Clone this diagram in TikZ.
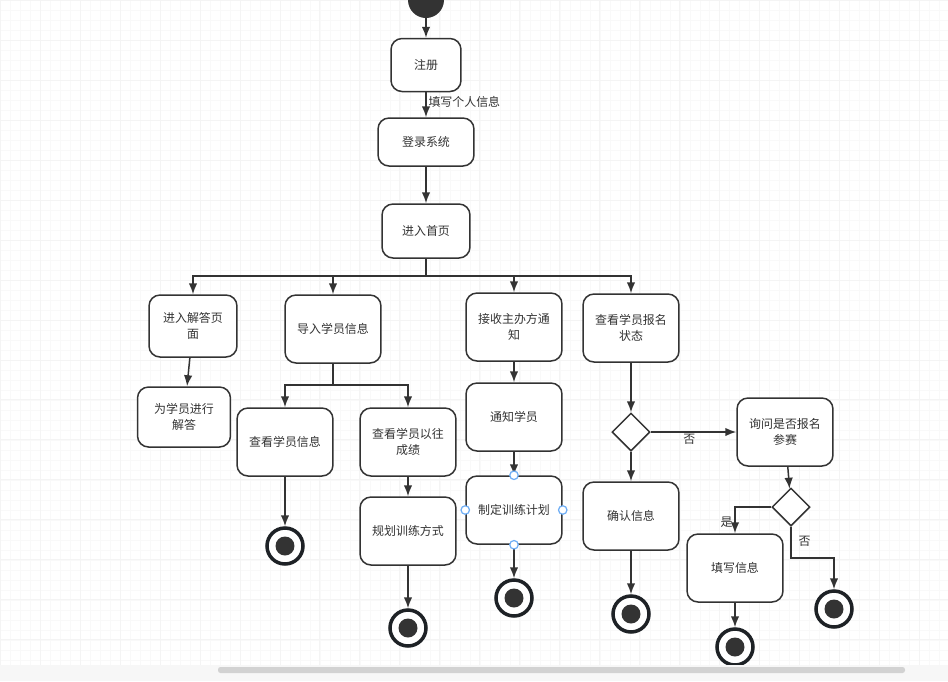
\documentclass[tikz,border=0pt]{standalone}
\usepackage{fontspec}
\newfontfamily\cjk{Noto Sans CJK SC}
\usepackage{xcolor}
\usepackage{tikz}
\usetikzlibrary{arrows.meta,shapes.geometric,calc}
\definecolor{ink}{HTML}{333333}
\definecolor{ring}{HTML}{1E2226}
\definecolor{handle}{HTML}{6FAEF5}
\tikzset{
    act/.style={draw=ink, line width=0.85pt, rounded corners=0.22cm, fill=white, align=center,
      minimum width=1.92cm, minimum height=1.36cm, inner sep=1pt, text=ink,
      font=\cjk\fontsize{6.8}{9}\selectfont},
    dec/.style={diamond, draw=ink, line width=0.85pt, fill=white, minimum width=0.76cm, minimum height=0.76cm, inner sep=0pt},
    begin/.style={circle, fill=ink, minimum size=0.72cm, inner sep=0pt},
    stop/.style={circle, draw=ring, line width=2pt, fill=white, minimum size=0.72cm, inner sep=0pt,
      path picture={\fill[ink] (path picture bounding box.center) circle (0.19cm);}},
    lbl/.style={text=ink, inner sep=1pt, font=\cjk\fontsize{6.8}{9}\selectfont},
    flow/.style={draw=ink, line width=0.85pt, -{Latex[length=2.2mm,width=1.7mm]}},
    knob/.style={circle, draw=handle, line width=0.7pt, fill=white, minimum size=0.17cm, inner sep=0pt}}

\begin{document}
\begin{tikzpicture}[x=0.02cm, y=-0.02cm]
\useasboundingbox (0,0) rectangle (948,681);
\fill[white] (0,0) rectangle (948,681);
\draw[gray!5, line width=0.4pt, step=0.2cm] (0,0) grid (948,665);
\draw[gray!9, line width=0.5pt, step=0.8cm] (0,0) grid (948,665);

\node[begin] (s0) at (426,0) {};
\node[act, minimum width=1.40cm, minimum height=1.06cm] (reg) at (426,65) {注册};
\node[act, minimum height=0.96cm] (login) at (426,142) {登录系统};
\node[act, minimum width=1.76cm, minimum height=1.08cm] (home) at (426,231) {进入首页};
\coordinate (bus) at (426,276);

\node[act, minimum width=1.76cm, minimum height=1.24cm] (ans) at (193,326) {进入解答页\\面};
\node[act, minimum width=1.86cm, minimum height=1.20cm] (reply) at (184,417) {为学员进行\\解答};

\node[act] (imp) at (333,329) {导入学员信息};
\coordinate (bus2) at (333,385);
\node[act] (view) at (285,442) {查看学员信息};
\node[act] (hist) at (408,442) {查看学员以往\\成绩};
\node[act] (plan) at (408,531) {规划训练方式};
\node[stop] (e1) at (285,546) {};
\node[stop] (e2) at (408,628) {};

\node[act] (recv) at (514,327) {接收主办方通\\知};
\node[act] (notify) at (514,417) {通知学员};
\node[act] (sched) at (514,510) {制定训练计划};
\node[stop] (e3) at (514,598) {};

\node[act] (status) at (631,328) {查看学员报名\\状态};
\node[dec] (d1) at (631,432) {};
\node[act] (confirm) at (631,516) {确认信息};
\node[stop] (e4) at (631,614) {};
\node[act] (ask) at (785,432) {询问是否报名\\参赛};
\node[dec] (d2) at (791,507) {};
\coordinate (bend) at (791,558);
\node[act] (fillin) at (735,568) {填写信息};
\node[stop] (e5) at (735,647) {};
\node[stop] (e6) at (834,609) {};

\draw[flow] (s0) -- (reg);
\draw[flow] (reg) -- node[lbl, anchor=west, pos=0.38] {填写个人信息} (login);
\draw[flow] (login) -- (home);
\draw[flow] (home) -- (bus) -| (ans);
\draw[flow] (home) -- (bus) -| (imp);
\draw[flow] (home) -- (bus) -| (recv);
\draw[flow] (home) -- (bus) -| (status);

\draw[flow] (ans) -- (reply);
\draw[flow] (imp) -- (bus2) -| (view);
\draw[flow] (imp) -- (bus2) -| (hist);
\draw[flow] (view) -- (e1);
\draw[flow] (hist) -- (plan);
\draw[flow] (plan) -- (e2);

\draw[flow] (recv) -- (notify);
\draw[flow] (notify) -- (sched);
\draw[flow] (sched) -- (e3);

\draw[flow] (status) -- (d1);
\draw[flow] (d1) -- node[lbl, below, pos=0.45] {否} (ask);
\draw[flow] (d1) -- (confirm);
\draw[flow] (confirm) -- (e4);
\draw[flow] (ask) -- (d2);
\draw[flow] (d2.west) -| node[lbl, anchor=east, pos=0.78] {是} (fillin);
\draw[flow] (d2.south) -- node[lbl, anchor=west, pos=0.45, xshift=0.1cm] {否} (bend) -| (e6);
\draw[flow] (fillin) -- (e5);

\foreach \a in {north,south,west,east}
  \node[knob] at (sched.\a) {};

\fill[gray!6] (0,665) rectangle (948,681);
\fill[gray!35, rounded corners=0.05cm] (218,667) rectangle (905,673);
\end{tikzpicture}
\end{document}
